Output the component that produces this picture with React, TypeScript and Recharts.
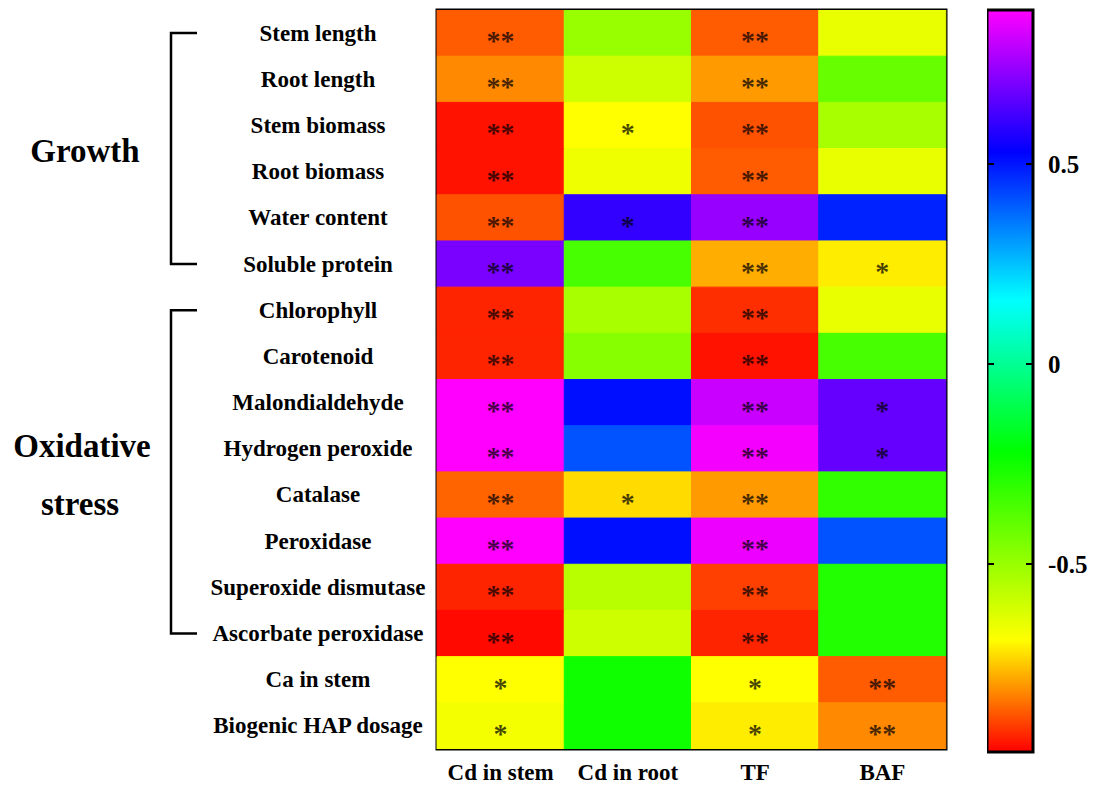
import { BarChart, Bar, XAxis, YAxis, Cell, LabelList, Customized, ReferenceArea } from "recharts";

const rows = [
  "Stem length",
  "Root length",
  "Stem biomass",
  "Root biomass",
  "Water content",
  "Soluble protein",
  "Chlorophyll",
  "Carotenoid",
  "Malondialdehyde",
  "Hydrogen peroxide",
  "Catalase",
  "Peroxidase",
  "Superoxide dismutase",
  "Ascorbate peroxidase",
  "Ca in stem",
  "Biogenic HAP dosage",
];

const columns = ["Cd in stem", "Cd in root", "TF", "BAF"];

// correlation coefficients
const cdStem = [-0.87, -0.82, -0.95, -0.95, -0.88, 0.7, -0.93, -0.93, 0.885, 0.885, -0.86, 0.885, -0.93, -0.96, -0.69, -0.67];
const cdRoot = [-0.5, -0.6, -0.69, -0.66, 0.6, -0.35, -0.53, -0.47, 0.51, 0.41, -0.73, 0.51, -0.56, -0.6, -0.25, -0.25];
const tf = [-0.87, -0.8, -0.88, -0.87, 0.74, -0.78, -0.92, -0.95, 0.81, 0.87, -0.8, 0.86, -0.9, -0.93, -0.69, -0.71];
const baf = [-0.65, -0.41, -0.53, -0.65, 0.48, -0.71, -0.65, -0.35, 0.67, 0.67, -0.31, 0.41, -0.28, -0.28, -0.87, -0.82];

const sigCdStem = ["**", "**", "**", "**", "**", "**", "**", "**", "**", "**", "**", "**", "**", "**", "*", "*"];
const sigCdRoot = ["", "", "*", "", "*", "", "", "", "", "", "*", "", "", "", "", ""];
const sigTf = ["**", "**", "**", "**", "**", "**", "**", "**", "**", "**", "**", "**", "**", "**", "*", "*"];
const sigBaf = ["", "", "", "", "", "*", "", "", "*", "*", "", "", "", "", "**", "**"];

const colorTicks = [-0.5, 0, 0.5];
const colorMin = -0.97;
const colorMax = 0.885;
const stopValues = [-0.97, -0.69, -0.22, 0.16, 0.53, 0.885];
const stopColors = [
  [255, 0, 0],
  [255, 255, 0],
  [0, 255, 0],
  [0, 255, 255],
  [0, 0, 255],
  [255, 0, 255],
];

const values = [cdStem, cdRoot, tf, baf];
const sigs = [sigCdStem, sigCdRoot, sigTf, sigBaf];

const FONT = "'Liberation Serif', 'Times New Roman', serif";

function colorOf(v: number) {
  const x = Math.max(colorMin, Math.min(colorMax, v));
  let i = 0;
  while (i < stopValues.length - 2 && x > stopValues[i + 1]) i++;
  const t = (x - stopValues[i]) / (stopValues[i + 1] - stopValues[i]);
  const a = stopColors[i];
  const b = stopColors[i + 1];
  const c = a.map((ch, k) => Math.round(ch + (b[k] - ch) * t));
  return `rgb(${c[0]},${c[1]},${c[2]})`;
}

const toRgb = (c: number[]) => `rgb(${c[0]},${c[1]},${c[2]})`;

const heatData = columns.map((name) => {
  const d: Record<string, string | number> = { name };
  rows.forEach((_, ri) => {
    d[`r${ri}`] = 1;
  });
  return d;
});

const colorbarData = [{ name: "scale" }];

// layout
const W = 1099;
const H = 787;
const plotLeft = 437;
const plotRight = 946;
const plotTop = 10;
const plotBottom = 749;
const rowH = (plotBottom - plotTop) / rows.length;
const rowCenter = (i: number) => plotTop + rowH * (i + 0.5);

function RowTick(props: any) {
  const { y, payload } = props;
  const idx = Math.floor(payload.value);
  return (
    <text x={318} y={y + 7.5} textAnchor="middle" fontFamily={FONT} fontWeight="bold" fontSize={23} fill="#000">
      {rows[idx]}
    </text>
  );
}

function ColTick(props: any) {
  const { x, payload } = props;
  return (
    <text x={x} y={780} textAnchor="middle" fontFamily={FONT} fontWeight="bold" fontSize={23} fill="#000">
      {payload.value}
    </text>
  );
}

function ColorTick(props: any) {
  const { y, payload } = props;
  return (
    <g>
      <line x1={1} x2={7} y1={y} y2={y} stroke="#000" strokeWidth={2} />
      <line x1={39} x2={45} y1={y} y2={y} stroke="#000" strokeWidth={2} />
      <text x={61} y={y + 9} textAnchor="start" fontFamily={FONT} fontWeight="bold" fontSize={25} fill="#000">
        {payload.value}
      </text>
    </g>
  );
}

function Annotations() {
  const bracket = (from: number, to: number) => {
    const y1 = rowCenter(from);
    const y2 = rowCenter(to);
    return <path d={`M197,${y1} H171 V${y2} H197`} fill="none" stroke="#000" strokeWidth={2.5} />;
  };
  return (
    <g>
      <rect
        x={plotLeft}
        y={plotTop}
        width={plotRight - plotLeft}
        height={plotBottom - plotTop}
        fill="none"
        stroke="#000"
        strokeWidth={3}
      />
      {bracket(0, 5)}
      {bracket(6, 13)}
      <g fontFamily={FONT} fontWeight="bold" fontSize={33} fill="#000" textAnchor="middle">
        <text x={85} y={162}>Growth</text>
        <text x={82} y={457}>Oxidative</text>
        <text x={80} y={515}>stress</text>
      </g>
    </g>
  );
}

export default function App() {
  const stops = stopValues
    .map((v, i) => ({ off: (colorMax - v) / (colorMax - colorMin), c: stopColors[i] }))
    .reverse();
  return (
    <div style={{ position: "absolute", left: 0, top: 0, width: W, height: H, background: "#fff" }}>
      <div style={{ position: "absolute", left: 0, top: 0 }}>
        <BarChart
          width={W}
          height={H}
          data={heatData}
          margin={{ top: plotTop, right: W - plotRight, bottom: 0, left: 0 }}
          barCategoryGap={0}
          barGap={0}
        >
          <XAxis dataKey="name" tick={<ColTick />} tickLine={false} axisLine={false} height={H - plotBottom} />
          <YAxis
            type="number"
            domain={[0, rows.length]}
            allowDataOverflow
            reversed
            ticks={rows.map((_, i) => i + 0.5)}
            interval={0}
            tick={<RowTick />}
            tickLine={false}
            axisLine={false}
            width={plotLeft}
          />
          {rows.map((_, ri) => (
            <Bar key={ri} dataKey={`r${ri}`} stackId="heat" isAnimationActive={false}>
              {columns.map((_, ci) => {
                const fill = colorOf(values[ci][ri]);
                return <Cell key={ci} fill={fill} stroke={fill} strokeWidth={1} />;
              })}
              <LabelList
                dataKey={`r${ri}`}
                content={(p: any) => {
                  const mark = sigs[p.index][ri];
                  if (!mark) return null;
                  const cx = Number(p.x) + Number(p.width) / 2;
                  const cy = Number(p.y) + Number(p.height) / 2;
                  return (
                    <text
                      x={cx}
                      y={cy + 17}
                      textAnchor="middle"
                      fontFamily={FONT}
                      fontWeight="bold"
                      fontSize={28}
                      fill="#000"
                      fillOpacity={0.72}
                    >
                      {mark}
                    </text>
                  );
                }}
              />
            </Bar>
          ))}
          <Customized component={Annotations} />
        </BarChart>
      </div>
      <div style={{ position: "absolute", left: 987, top: 0 }}>
        <BarChart
          width={112}
          height={H}
          data={colorbarData}
          margin={{ top: 10, right: 0, bottom: H - 752, left: 0 }}
        >
          <defs>
            <linearGradient id="cbGrad" x1="0" y1="0" x2="0" y2="1">
              {stops.map((s, i) => (
                <stop key={i} offset={s.off} stopColor={toRgb(s.c)} />
              ))}
            </linearGradient>
          </defs>
          <XAxis dataKey="name" hide />
          <YAxis
            type="number"
            orientation="right"
            domain={[colorMin, colorMax]}
            allowDataOverflow
            ticks={colorTicks}
            tick={<ColorTick />}
            tickLine={false}
            axisLine={false}
            width={66}
          />
          <ReferenceArea
            y1={colorMin}
            y2={colorMax}
            fill="url(#cbGrad)"
            fillOpacity={1}
            stroke="#000"
            strokeWidth={3}
            ifOverflow="visible"
          />
        </BarChart>
      </div>
    </div>
  );
}
